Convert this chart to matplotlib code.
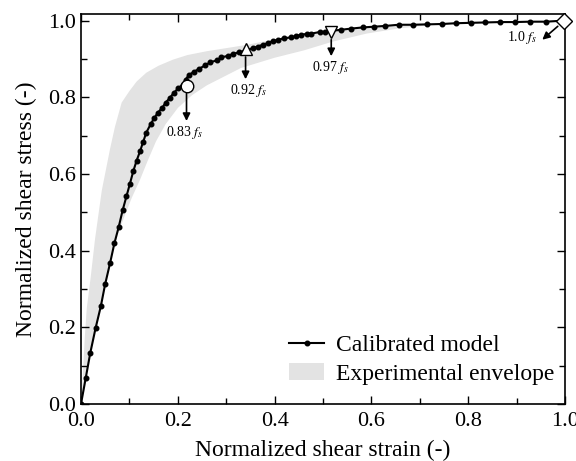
import numpy as np
import matplotlib
matplotlib.use("Agg")
import matplotlib.pyplot as plt

plt.rcParams['font.family'] = ['Liberation Serif', 'DejaVu Serif']
plt.rcParams['mathtext.fontset'] = 'stix'

# calibrated model (normalized strain, normalized stress)
model_x = [0.0, 0.0097, 0.019, 0.030, 0.041, 0.050, 0.060, 0.069, 0.078, 0.086,
           0.094, 0.101, 0.108, 0.115, 0.122, 0.128, 0.135, 0.144, 0.151, 0.159,
           0.168, 0.175, 0.184, 0.192, 0.201, 0.210, 0.216, 0.223, 0.233, 0.244,
           0.256, 0.267, 0.280, 0.290, 0.304, 0.314, 0.326, 0.338, 0.355, 0.365,
           0.376, 0.386, 0.396, 0.408, 0.420, 0.434, 0.445, 0.455, 0.466, 0.476,
           0.493, 0.505, 0.517, 0.538, 0.558, 0.582, 0.606, 0.629, 0.656, 0.685,
           0.715, 0.746, 0.775, 0.805, 0.835, 0.866, 0.896, 0.927, 0.961, 1.0]
model_y = [0.0, 0.067, 0.132, 0.197, 0.255, 0.313, 0.367, 0.419, 0.462, 0.505,
           0.542, 0.574, 0.607, 0.635, 0.659, 0.682, 0.708, 0.730, 0.745, 0.760,
           0.773, 0.786, 0.799, 0.812, 0.823, 0.833, 0.846, 0.858, 0.866, 0.874,
           0.883, 0.891, 0.896, 0.904, 0.908, 0.913, 0.917, 0.921, 0.928, 0.932,
           0.937, 0.941, 0.946, 0.950, 0.954, 0.956, 0.960, 0.963, 0.965, 0.966,
           0.970, 0.971, 0.973, 0.976, 0.979, 0.982, 0.984, 0.986, 0.989, 0.989,
           0.990, 0.991, 0.993, 0.994, 0.995, 0.996, 0.996, 0.997, 0.997, 1.0]

# experimental envelope bounds
upper_x = [0.0, 0.003, 0.008, 0.012, 0.020, 0.029, 0.043, 0.060, 0.070, 0.084,
           0.100, 0.115, 0.135, 0.160, 0.190, 0.220, 0.260, 0.300, 0.340, 0.400,
           0.500, 0.600, 0.700, 0.800]
upper_y = [0.0, 0.057, 0.177, 0.250, 0.330, 0.430, 0.557, 0.665, 0.722, 0.786,
           0.816, 0.841, 0.864, 0.882, 0.898, 0.910, 0.920, 0.928, 0.936, 0.951,
           0.971, 0.984, 0.990, 0.994]
lower_x = [0.0, 0.0097, 0.019, 0.030, 0.041, 0.050, 0.060, 0.069, 0.090, 0.105,
           0.122, 0.138, 0.155, 0.175, 0.200, 0.230, 0.260, 0.330, 0.400, 0.460,
           0.520, 0.590, 0.660, 0.730, 0.800]
lower_y = [0.0, 0.067, 0.132, 0.197, 0.255, 0.313, 0.367, 0.419, 0.490, 0.538,
           0.585, 0.635, 0.685, 0.730, 0.772, 0.806, 0.831, 0.876, 0.903, 0.922,
           0.945, 0.966, 0.980, 0.989, 0.994]

# key points on the curve
key_x = [0.218, 0.340, 0.517, 0.997]
key_y = [0.830, 0.925, 0.970, 1.0]
key_markers = ['o', '^', 'v', 'D']
key_labels = [r'0.83 $f_s$', r'0.92 $f_s$', r'0.97 $f_s$', r'1.0 $f_s$']
arrow_tips = [(0.218, 0.738), (0.340, 0.847), (0.517, 0.907), (0.953, 0.950)]
arrow_starts = [(0.218, 0.81), (0.340, 0.905), (0.517, 0.950), (0.985, 0.985)]
text_pos = [(0.214, 0.708), (0.347, 0.818), (0.515, 0.878), (0.912, 0.957)]

fig = plt.figure(figsize=(5.76, 4.61), dpi=100)
ax = fig.add_axes([0.1406, 0.1236, 0.8404, 0.846])

ax.fill(np.r_[upper_x, lower_x[::-1]], np.r_[upper_y, lower_y[::-1]],
        color='#e3e3e3', lw=0, label='Experimental envelope')
ax.plot(model_x, model_y, '-o', color='black', lw=1.5, ms=3.3,
        label='Calibrated model')

for x, y, m in zip(key_x, key_y, key_markers):
    ax.plot(x, y, m, ms=9 if m != 'D' else 8, mfc='white', mec='black',
            mew=1.0, clip_on=False, zorder=5)

for (tx, ty), (sx, sy), (lx, ly), lab in zip(arrow_tips, arrow_starts, text_pos, key_labels):
    ax.annotate('', xy=(tx, ty), xytext=(sx, sy),
                arrowprops=dict(arrowstyle='-|>', color='black', lw=1.2,
                                mutation_scale=11, shrinkA=0, shrinkB=0))
    ax.text(lx, ly, lab, fontsize=10, ha='center', va='center')

ax.set_xlim(0, 1.0)
ax.set_ylim(0, 1.017)
ax.set_xticks(np.arange(0, 1.01, 0.2))
ax.set_yticks(np.arange(0, 1.01, 0.2))
ax.set_xticks(np.arange(0.1, 1.0, 0.2), minor=True)
ax.set_yticks(np.arange(0.1, 1.0, 0.2), minor=True)
ax.tick_params(which='both', direction='in', top=True, right=True, labelsize=16)
ax.tick_params(axis='x', which='major', pad=6)
ax.tick_params(which='major', length=6, width=1)
ax.tick_params(which='minor', length=4, width=1)
for s in ax.spines.values():
    s.set_linewidth(1.2)

ax.set_xlabel('Normalized shear strain (-)', fontsize=17, labelpad=6)
ax.set_ylabel('Normalized shear stress (-)', fontsize=17, labelpad=8)

handles, labels = ax.get_legend_handles_labels()
ax.legend(handles[::-1], labels[::-1], loc='lower right', frameon=False,
          fontsize=17, handlelength=1.5, handletextpad=0.5,
          labelspacing=0.3, bbox_to_anchor=(1.022, -0.005))

fig.savefig('out.png', dpi=100)
